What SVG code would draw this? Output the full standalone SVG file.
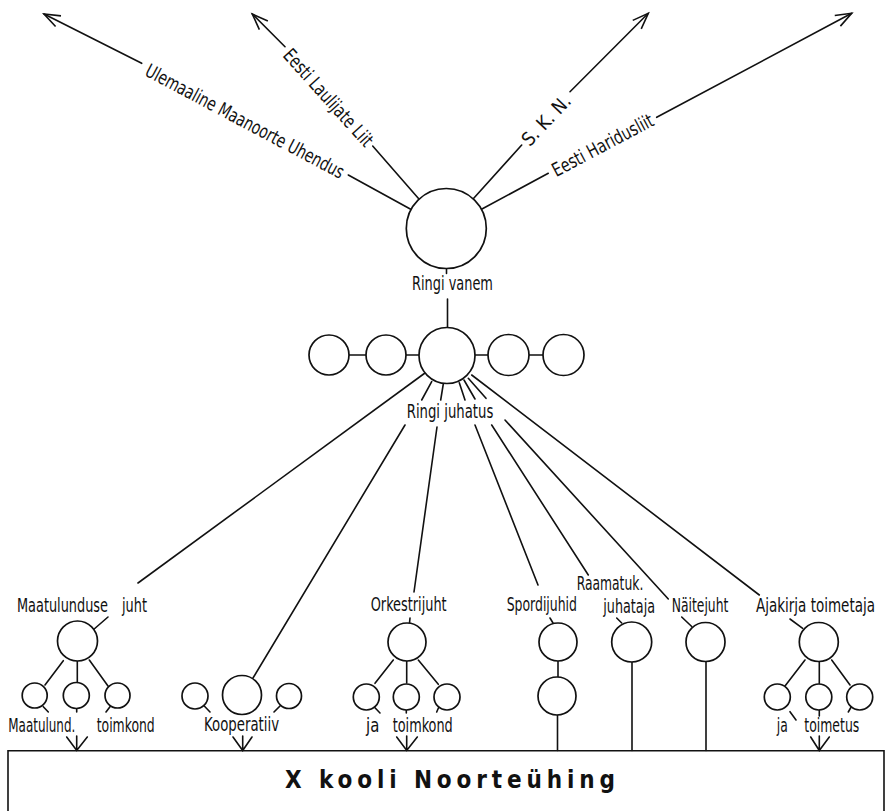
<svg xmlns="http://www.w3.org/2000/svg" width="887" height="811" viewBox="0 0 887 811">
<style>
.ln{stroke:#111;stroke-width:1.6;fill:none;stroke-linecap:round}
.nd circle{fill:#fff;stroke:#111;stroke-width:1.7}
text{font-family:"DejaVu Sans Condensed","Liberation Sans Narrow","DejaVu Sans",sans-serif;font-size:19px;fill:#111}
.t{font-weight:bold;font-size:24px}
</style>
<defs>
<marker id="ah" markerUnits="userSpaceOnUse" markerWidth="20" markerHeight="16" refX="0" refY="0" viewBox="-18 -8 20 16" orient="auto" overflow="visible">
<path d="M-16,-6 L0,0 L-16,6" fill="none" stroke="#111" stroke-width="1.6"/>
</marker>
</defs>
<rect width="887" height="811" fill="#fff"/>
<g id="connectors">
<path class="ln" d="M410.7,209.3 L348.3,175"/>
<path class="ln" d="M141.7,63.3 L44,14" marker-end="url(#ah)"/>
<path class="ln" d="M418.3,198.3 L372.7,146"/>
<path class="ln" d="M285,46.7 L252.3,14" marker-end="url(#ah)"/>
<path class="ln" d="M473.5,198.5 L521.7,145"/>
<path class="ln" d="M570,91.7 L648.3,13.3" marker-end="url(#ah)"/>
<path class="ln" d="M481.5,209.3 L548.3,173.3"/>
<path class="ln" d="M656.7,117.3 L851.7,13.3" marker-end="url(#ah)"/>
<path class="ln" d="M446.5,268.5 V273.5 M447.5,299 V327"/>
<path class="ln" d="M349,355 H366 M406,355 H419 M475,355 H488 M529,355 H543"/>
<path class="ln" d="M425,373 L138,583"/>
<path class="ln" d="M431.7,381.7 L421.7,400 M405,425 L253,678"/>
<path class="ln" d="M443.3,384 L440.7,400 M437,427 L414,592"/>
<path class="ln" d="M459.3,382.7 L465,400 M475,425 L538,585"/>
<path class="ln" d="M464,380 L475,399 M491.7,425 L588.3,575"/>
<path class="ln" d="M468.3,378.3 L486,398.3 M505,420 L668.3,599"/>
<path class="ln" d="M471.7,375 L759.3,595"/>
<path class="ln" d="M108,617 L93,630 M63.3,660.7 L45,685 M77.3,661 V683 M89.3,660 L108,686 M43.3,706.7 L48.3,712 M76.7,708.5 V712 M110,706.7 L106,712"/>
<path class="ln" d="M76.7,736 V750.5 M66.7,737 L76.7,750.5 L87.3,737"/>
<path class="ln" d="M203.3,705 L210,712 M280,706 L274,712"/>
<path class="ln" d="M242.7,736 V750.5 M233,737 L242.7,750.5 L252,737"/>
<path class="ln" d="M410,618 L409.5,623 M393.3,660 L375,683.3 M406.7,661 V683 M418.3,660 L438.3,684.3 M373.3,706 L380,713 M406.3,710 V713 M439.3,706 L436.7,712"/>
<path class="ln" d="M406.7,736 V750.5 M396.7,737 L406.7,750.5 L417.3,737"/>
<path class="ln" d="M550,618 L553,623 M558,661 V677 M557.5,715 V750.5"/>
<path class="ln" d="M616.7,618 L621.7,623 M632,662 V750.5"/>
<path class="ln" d="M681.7,617 L691.7,626.5 M706,661.5 V750.5"/>
<path class="ln" d="M790,619 L802.7,628.3 M805,660 L785,686 M819.3,661.5 V683.3 M831.7,660 L850,685 M790,711.7 L796,720 M819.3,710 V716 M851.7,706 L848.3,712"/>
<path class="ln" d="M819.3,736 V750.5 M810.7,737 L819.3,750.5 L829.3,737"/>
</g>
<g id="orgs">
<text transform="translate(245,121) rotate(28) scale(0.78,1)" y="6.8" text-anchor="middle" textLength="284.6" lengthAdjust="spacingAndGlyphs">Ulemaaline Maanoorte Uhendus</text>
<text transform="translate(328.5,97.5) rotate(48) scale(0.78,1)" y="6.8" text-anchor="middle" textLength="159" lengthAdjust="spacingAndGlyphs">Eesti Laulijate Liit</text>
<text transform="translate(546,120) rotate(-46.6) scale(0.78,1)" y="6.8" text-anchor="middle" textLength="79.5" lengthAdjust="spacingAndGlyphs">S. K. N.</text>
<text transform="translate(602.5,145) rotate(-27.9) scale(0.78,1)" y="6.8" text-anchor="middle" textLength="143.6" lengthAdjust="spacingAndGlyphs">Eesti Haridusliit</text>
</g>
<g id="ringi-vanem" class="nd">
<circle cx="446.3" cy="228.5" r="40"/>
<text transform="translate(412,290) scale(0.78,1)" textLength="103.8" lengthAdjust="spacingAndGlyphs">Ringi vanem</text>
</g>
<g id="ringi-juhatus" class="nd">
<circle cx="329" cy="355" r="20"/>
<circle cx="386" cy="355" r="20"/>
<circle cx="447" cy="355.5" r="28"/>
<circle cx="508.5" cy="355" r="20.5"/>
<circle cx="563.5" cy="355" r="20.5"/>
<text transform="translate(406.7,418) scale(0.78,1)" textLength="111" lengthAdjust="spacingAndGlyphs">Ringi juhatus</text>
</g>
<g id="maatulunduse-juht" class="nd">
<text transform="translate(17,612) scale(0.78,1)" textLength="116.7" lengthAdjust="spacingAndGlyphs">Maatulunduse</text>
<text transform="translate(122,612) scale(0.78,1)" textLength="32" lengthAdjust="spacingAndGlyphs">juht</text>
<circle cx="77.5" cy="641" r="20"/>
</g>
<g id="maatulund-toimkond" class="nd">
<circle cx="34.7" cy="695.5" r="12.5"/>
<circle cx="76.3" cy="695.5" r="13"/>
<circle cx="117.5" cy="695.5" r="12.5"/>
<text transform="translate(8.3,731.7) scale(0.78,1)" textLength="85.9" lengthAdjust="spacingAndGlyphs">Maatulund.</text>
<text transform="translate(96.7,731.7) scale(0.78,1)" textLength="74.4" lengthAdjust="spacingAndGlyphs">toimkond</text>
</g>
<g id="kooperatiiv" class="nd">
<circle cx="195" cy="696" r="13"/>
<circle cx="242" cy="695" r="19.5"/>
<circle cx="289" cy="696" r="12.5"/>
<text transform="translate(204,731) scale(0.78,1)" textLength="96.2" lengthAdjust="spacingAndGlyphs">Kooperatiiv</text>
</g>
<g id="orkestrijuht" class="nd">
<text transform="translate(370.7,611) scale(0.78,1)" textLength="97.4" lengthAdjust="spacingAndGlyphs">Orkestrijuht</text>
<circle cx="407" cy="642" r="19"/>
</g>
<g id="orkestri-toimkond" class="nd">
<circle cx="366.3" cy="697" r="13"/>
<circle cx="406.3" cy="697" r="13"/>
<circle cx="447" cy="697" r="13"/>
<text transform="translate(366,731.7) scale(0.78,1)" textLength="17" lengthAdjust="spacingAndGlyphs">ja</text>
<text transform="translate(392.7,731.7) scale(0.78,1)" textLength="77" lengthAdjust="spacingAndGlyphs">toimkond</text>
</g>
<g id="spordijuhid" class="nd">
<text transform="translate(506.7,611) scale(0.78,1)" textLength="90.1" lengthAdjust="spacingAndGlyphs">Spordijuhid</text>
<circle cx="558" cy="642" r="19"/>
<circle cx="557" cy="696" r="19"/>
</g>
<g id="raamatuk-juhataja" class="nd">
<text transform="translate(576.7,589.5) scale(0.78,1)" textLength="85.4" lengthAdjust="spacingAndGlyphs">Raamatuk.</text>
<text transform="translate(603.3,612.5) scale(0.78,1)" textLength="66.3" lengthAdjust="spacingAndGlyphs">juhataja</text>
<circle cx="631.7" cy="642" r="20"/>
</g>
<g id="naitejuht" class="nd">
<text transform="translate(671.7,612) scale(0.78,1)" textLength="72.6" lengthAdjust="spacingAndGlyphs">Näitejuht</text>
<circle cx="705.5" cy="642" r="19.5"/>
</g>
<g id="ajakirja-toimetaja" class="nd">
<text transform="translate(756,612) scale(0.78,1)" textLength="152.6" lengthAdjust="spacingAndGlyphs">Ajakirja toimetaja</text>
<circle cx="818.8" cy="642" r="19.5"/>
</g>
<g id="ajakirja-toimetus" class="nd">
<circle cx="777.3" cy="697" r="13"/>
<circle cx="818.8" cy="697" r="13"/>
<circle cx="859.7" cy="697" r="13"/>
<text transform="translate(776.7,732) scale(0.78,1)" textLength="14.1" lengthAdjust="spacingAndGlyphs">ja</text>
<text transform="translate(804.3,732) scale(0.78,1)" textLength="70.5" lengthAdjust="spacingAndGlyphs">toimetus</text>
</g>
<g id="x-kooli-noorteuhing">
<path class="ln" d="M8,815 V750.7 H884 V815"/>
<text class="t" x="285" y="788" textLength="330" lengthAdjust="spacing">X kooli Noorteühing</text>
</g>
</svg>
